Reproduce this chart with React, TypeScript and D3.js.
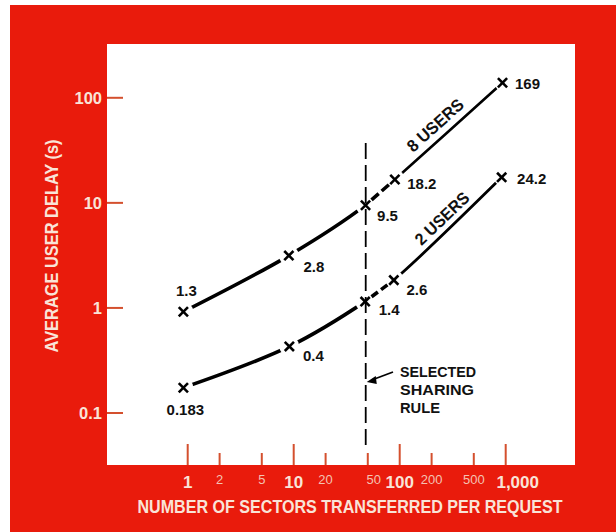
import React from "react";
import * as d3 from "d3";

// ---- data ----
const sectors8 = [0.91, 9.0, 47.6, 90, 933];
const delay8 = [0.92, 3.15, 9.5, 16.7, 139];
const labels8 = ["1.3", "2.8", "9.5", "18.2", "169"];

const sectors2 = [0.91, 9.1, 47.2, 88, 916];
const delay2 = [0.174, 0.43, 1.15, 1.84, 17.5];
const labels2 = ["0.183", "0.4", "1.4", "2.6", "24.2"];

const selectedRule = 47.8;

const xMajorTicks = [1, 10, 100, 1000];
const xMajorLabels = ["1", "10", "100", "1,000"];
const xMinorTicks = [2, 5, 20, 50, 200, 500];
const xMinorLabels = ["2", "5", "20", "50", "200", "500"];
const yTicks = [0.1, 1, 10, 100];
const yTickLabels = ["0.1", "1", "10", "100"];

const seriesNames = ["8 USERS", "2 USERS"];

// ---- layout / style ----
const W = 616, H = 532;
const RED = "#e91b0c";
const TICK = "#d4502e";
const PALE = "#f9e4d8";
const FONT = "'Liberation Sans', Arial, sans-serif";

const plot = { left: 107, right: 575, top: 44, bottom: 465 };

const x = d3.scaleLog().domain([1, 1000]).range([187.7, 505.7]);
const y = d3.scaleLog().domain([0.1, 100]).range([413, 97.8]);

const off8 = [[3, -21], [25, 11], [22, 10], [27, 4], [25, 1]];
const off2 = [[2, 22], [24, 9], [24, 8], [23, 9], [30, 1]];
const xLabelDx: Record<number, number> = { 1000: 12, 50: 6 };

const lineGen = d3
  .line<[number, number]>()
  .x((d) => d[0])
  .y((d) => d[1])
  .curve(d3.curveCatmullRom.alpha(0.5));

function Series({ xs, ys, id, wA, wC }: { xs: number[]; ys: number[]; id: string; wA: number; wC: number }) {
  const pts: [number, number][] = xs.map((v, i) => [x(v), y(ys[i])]);
  const d = lineGen(pts) || "";
  const [p3, p4] = [pts[2], pts[3]];
  const dx = p4[0] - p3[0], dy = p4[1] - p3[1];
  const len = Math.hypot(dx, dy);
  const ux = dx / len, uy = dy / len;
  const gapS = 8;
  const s = [p3[0] + ux * gapS, p3[1] + uy * gapS];
  const e = [p4[0] - ux * gapS, p4[1] - uy * gapS];
  const L = len - 2 * gapS;
  const dash = (L - 4) / 2;
  return (
    <g>
      <defs>
        <clipPath id={id + "A"}>
          <rect x={pts[0][0] - 20} y={0} width={pts[2][0] - pts[0][0] + 20} height={H} />
        </clipPath>
        <clipPath id={id + "C"}>
          <rect x={pts[3][0]} y={0} width={pts[4][0] - pts[3][0] + 20} height={H} />
        </clipPath>
      </defs>
      <path d={d} fill="none" stroke="#000" strokeWidth={wA} clipPath={`url(#${id}A)`} />
      <path d={d} fill="none" stroke="#000" strokeWidth={wC} clipPath={`url(#${id}C)`} />
      {pts.map((p, i) => (
        <circle key={i} cx={p[0]} cy={p[1]} r={i === 4 ? 8 : 10} fill="#fff" />
      ))}
      <line x1={s[0]} y1={s[1]} x2={e[0]} y2={e[1]} stroke="#000" strokeWidth={wA} strokeDasharray={`${dash},4`} />
    </g>
  );
}

function Markers({ xs, ys }: { xs: number[]; ys: number[] }) {
  const h = 4.6;
  return (
    <g stroke="#000" strokeWidth={2.6}>
      {xs.map((v, i) => {
        const cx = x(v), cy = y(ys[i]);
        return (
          <g key={i}>
            <line x1={cx - h} y1={cy - h} x2={cx + h} y2={cy + h} />
            <line x1={cx - h} y1={cy + h} x2={cx + h} y2={cy - h} />
          </g>
        );
      })}
    </g>
  );
}

function ValueLabels({ xs, ys, labels, offs }: { xs: number[]; ys: number[]; labels: string[]; offs: number[][] }) {
  return (
    <g fontFamily={FONT} fontWeight="bold" fontSize={15} fill="#111" textAnchor="middle">
      {labels.map((t, i) => (
        <text key={i} x={x(xs[i]) + offs[i][0]} y={y(ys[i]) + offs[i][1]} dominantBaseline="central">
          {t}
        </text>
      ))}
    </g>
  );
}

function SeriesName({ xs, ys, name, along, normal, len }: { xs: number[]; ys: number[]; name: string; along: number; normal: number; len: number }) {
  const ax = x(xs[3]), ay = y(ys[3]), bx = x(xs[4]), by = y(ys[4]);
  const ang = Math.atan2(by - ay, bx - ax);
  const ux = Math.cos(ang), uy = Math.sin(ang);
  const nx = uy, ny = -ux; // normal pointing up-left
  const mx = (ax + bx) / 2 + ux * along + nx * normal;
  const my = (ay + by) / 2 + uy * along + ny * normal;
  return (
    <text
      transform={`translate(${mx},${my}) rotate(${(ang * 180) / Math.PI})`}
      textAnchor="middle"
      dominantBaseline="central"
      fontFamily={FONT}
      fontWeight="bold"
      fontSize={17}
      fill="#111"
      textLength={len}
      lengthAdjust="spacingAndGlyphs"
    >
      {name}
    </text>
  );
}

export default function App() {
  const xr = x(selectedRule);
  return (
    <svg width={W} height={H} style={{ position: "absolute", left: 0, top: 0, background: "#fff" }}>
      <rect x={10} y={5} width={W - 10} height={H - 5} fill={RED} />
      <rect x={plot.left} y={plot.top} width={plot.right - plot.left} height={plot.bottom - plot.top} fill="#fff" />

      {/* y ticks */}
      {yTicks.map((t, i) => (
        <g key={t}>
          <line x1={plot.left} x2={plot.left + 16} y1={y(t)} y2={y(t)} stroke={TICK} strokeWidth={2} />
          <text x={102} y={y(t)} textAnchor="end" dominantBaseline="central" fontFamily={FONT} fontWeight="bold" fontSize={16.5} fill={PALE}>
            {yTickLabels[i]}
          </text>
        </g>
      ))}

      {/* x ticks */}
      {xMajorTicks.map((t, i) => (
        <g key={t}>
          <line x1={x(t)} x2={x(t)} y1={plot.bottom} y2={plot.bottom - 21} stroke={TICK} strokeWidth={2} />
          <text x={x(t) + (xLabelDx[t] || 0)} y={482} textAnchor="middle" dominantBaseline="central" fontFamily={FONT} fontWeight="bold" fontSize={17} fill={PALE}>
            {xMajorLabels[i]}
          </text>
        </g>
      ))}
      {xMinorTicks.map((t, i) => (
        <g key={t}>
          <line x1={x(t)} x2={x(t)} y1={plot.bottom} y2={plot.bottom - 12} stroke={TICK} strokeWidth={2} />
          <text x={x(t) + (xLabelDx[t] || 0)} y={479} textAnchor="middle" dominantBaseline="central" fontFamily={FONT} fontSize={13} fill="#f4c2b2">
            {xMinorLabels[i]}
          </text>
        </g>
      ))}

      {/* axis titles */}
      <text x={350} y={507} textAnchor="middle" dominantBaseline="central" fontFamily={FONT} fontWeight="bold" fontSize={17.5} fill={PALE} textLength={425} lengthAdjust="spacingAndGlyphs">
        NUMBER OF SECTORS TRANSFERRED PER REQUEST
      </text>
      <text transform="translate(52,246) rotate(-90)" textAnchor="middle" dominantBaseline="central" fontFamily={FONT} fontWeight="bold" fontSize={17.5} fill={PALE} textLength={213} lengthAdjust="spacingAndGlyphs">
        AVERAGE USER DELAY (s)
      </text>

      {/* curves */}
      <Series xs={sectors8} ys={delay8} id="s8" wA={3.6} wC={2.6} />
      <Series xs={sectors2} ys={delay2} id="s2" wA={3.6} wC={2.8} />

      {/* selected sharing rule */}
      <line x1={xr} x2={xr} y1={143} y2={445} stroke="#000" strokeWidth={1.8} strokeDasharray="16,6" />
      <line x1={393} y1={372} x2={xr + 6} y2={380} stroke="#000" strokeWidth={1.8} />
      <polygon points={`${xr + 1},${382} ${xr + 10},${376} ${xr + 11},${384}`} fill="#000" />
      <g fontFamily={FONT} fontWeight="bold" fontSize={15} fill="#111">
        <text x={400} y={377} textLength={76} lengthAdjust="spacingAndGlyphs">SELECTED</text>
        <text x={400} y={395} textLength={74} lengthAdjust="spacingAndGlyphs">SHARING</text>
        <text x={400} y={413} textLength={40} lengthAdjust="spacingAndGlyphs">RULE</text>
      </g>

      <Markers xs={sectors8} ys={delay8} />
      <Markers xs={sectors2} ys={delay2} />

      <ValueLabels xs={sectors8} ys={delay8} labels={labels8} offs={off8} />
      <ValueLabels xs={sectors2} ys={delay2} labels={labels2} offs={off2} />

      <SeriesName xs={sectors8} ys={delay8} name={seriesNames[0]} along={-6} normal={13} len={70} />
      <SeriesName xs={sectors2} ys={delay2} name={seriesNames[1]} along={3} normal={11} len={68} />
    </svg>
  );
}
